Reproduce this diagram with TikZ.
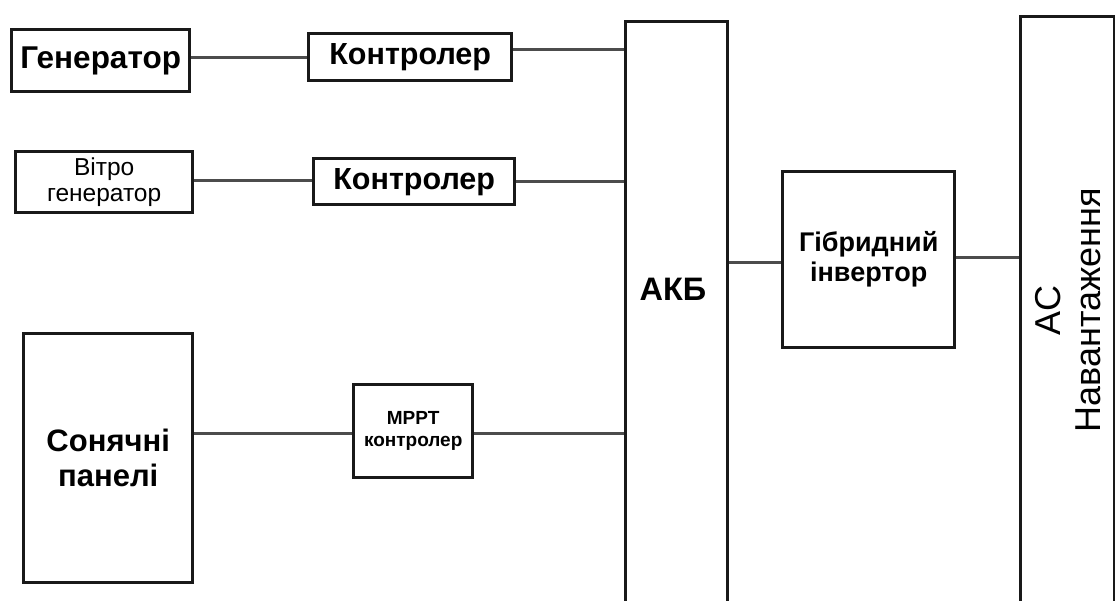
\documentclass[tikz,border=0pt]{standalone}
\usepackage{fontspec}
\setmainfont{Liberation Sans}
\definecolor{boxc}{gray}{0.1}
\definecolor{wirec}{gray}{0.3}
\begin{document}
\begin{tikzpicture}[x=1pt,y=-1pt,
  blk/.style={draw=boxc,line width=3.4pt,inner sep=0pt,anchor=north west,align=center},
  wire/.style={draw=wirec,line width=3pt}]
\useasboundingbox (0,0) rectangle (1115,600);
\clip (0,0) rectangle (1115,600);
% boxes
\node[blk,minimum width=178pt,minimum height=62pt,font=\fontsize{31.5}{34}\selectfont\bfseries] (gen) at (10,28) {Генератор};
\node[blk,minimum width=203pt,minimum height=47pt,font=\fontsize{30.5}{33}\selectfont\bfseries] (ctrl1) at (307,32) {Контролер};
\node[blk,minimum width=177pt,minimum height=61pt,font=\fontsize{24.5}{26}\selectfont] (vit) at (14,150) {Вітро\\генератор};
\node[blk,minimum width=201pt,minimum height=46pt,font=\fontsize{30.5}{33}\selectfont\bfseries] (ctrl2) at (312,157) {Контролер};
\node[blk,minimum width=169pt,minimum height=249pt,font=\fontsize{31}{35}\selectfont\bfseries] (sol) at (22,332) {Сонячні\\панелі};
\node[blk,minimum width=119pt,minimum height=93pt,font=\fontsize{19}{22}\selectfont\bfseries] (mppt) at (352,383) {MPPT\\контролер};
\node[blk,minimum width=102pt,minimum height=600pt] (akb) at (624,20) {};
\node[font=\fontsize{32.5}{36}\selectfont\bfseries] (akbt) at (673,289) {АКБ};
\node[blk,minimum width=172pt,minimum height=176pt,font=\fontsize{27}{30}\selectfont\bfseries] (inv) at (781,170) {Гібридний\\інвертор};
\node[blk,minimum width=94pt,minimum height=600pt] (ac) at (1019,15) {};
\node[rotate=90,align=center,font=\fontsize{36}{40}\selectfont] (act) at (1068,310) {AC\\Навантаження};
% connectors
\draw[wire] (gen.east |- 0,57) -- (ctrl1.west |- 0,57);
\draw[wire] (ctrl1.east |- 0,49) -- (akb.west |- 0,49);
\draw[wire] (vit.east |- 0,180) -- (ctrl2.west |- 0,180);
\draw[wire] (ctrl2.east |- 0,181) -- (akb.west |- 0,181);
\draw[wire] (sol.east |- 0,433) -- (mppt.west |- 0,433);
\draw[wire] (mppt.east |- 0,433) -- (akb.west |- 0,433);
\draw[wire] (akb.east |- 0,262) -- (inv.west |- 0,262);
\draw[wire] (inv.east |- 0,257) -- (ac.west |- 0,257);
\end{tikzpicture}
\end{document}
